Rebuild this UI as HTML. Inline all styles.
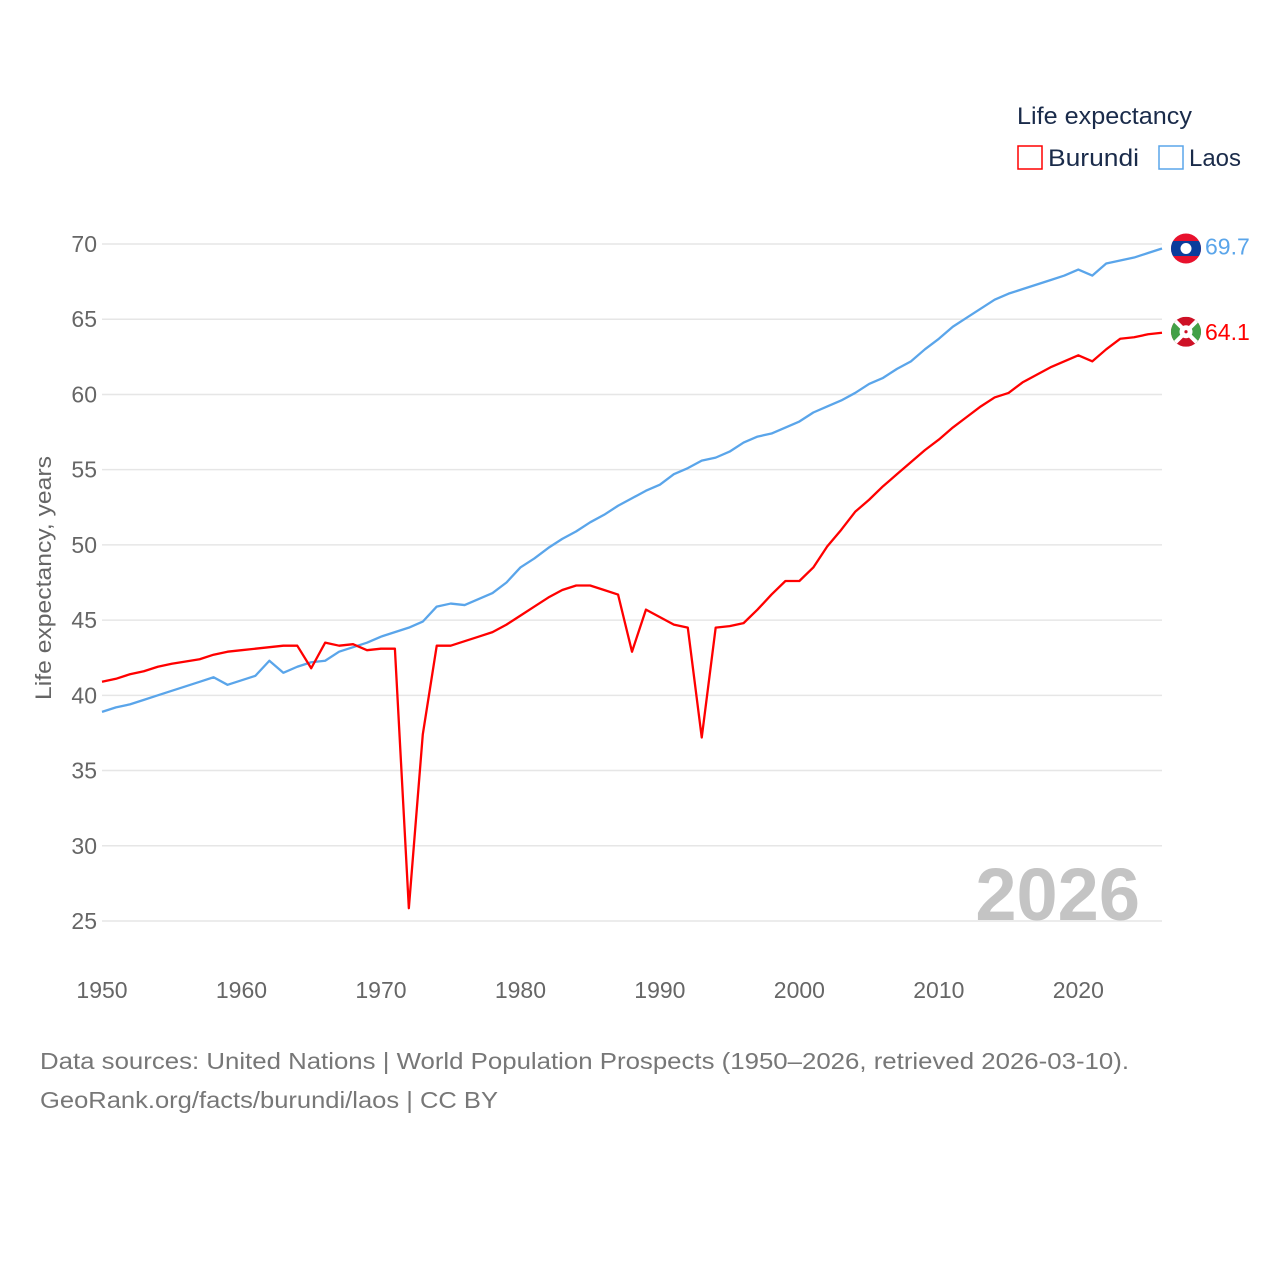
<!DOCTYPE html>
<html><head><meta charset="utf-8"><style>
body{margin:0;background:#fff;width:1280px;height:1280px;overflow:hidden;font-family:"Liberation Sans",sans-serif}
</style></head><body>
<svg id="chart" width="1280" height="1280" xmlns="http://www.w3.org/2000/svg">
<defs>
<clipPath id="cl"><circle id="clc" cx="1186" cy="248" r="15"/></clipPath>
<clipPath id="cb"><circle id="cbc" cx="1186" cy="332" r="15"/></clipPath>
</defs>
<g id="grid"></g>
<g id="yticks"></g>
<g id="xticks"></g>
<text transform="translate(51,578) rotate(-90)" text-anchor="middle" font-size="22" fill="#666" textLength="244" lengthAdjust="spacingAndGlyphs">Life expectancy, years</text>
<text x="1140" y="920" text-anchor="end" font-size="74" font-weight="bold" fill="#c4c4c4">2026</text>
<g id="series"></g>
<g>
<text x="1017" y="124" font-size="24" fill="#1a2b4a" textLength="175" lengthAdjust="spacingAndGlyphs">Life expectancy</text>
<g><rect x="1018" y="146" width="24" height="23" fill="none" stroke="#ff0000" stroke-width="1.5"/><text x="1048" y="166" font-size="24" fill="#1a2b4a" textLength="91" lengthAdjust="spacingAndGlyphs">Burundi</text></g>
<g><rect x="1159" y="146" width="24" height="23" fill="none" stroke="#5aa5ea" stroke-width="1.5"/><text x="1189" y="166" font-size="24" fill="#1a2b4a" textLength="52" lengthAdjust="spacingAndGlyphs">Laos</text></g>
</g>
<text x="40" y="1069" font-size="23" fill="#777" textLength="1089" lengthAdjust="spacingAndGlyphs">Data sources: United Nations | World Population Prospects (1950–2026, retrieved 2026-03-10).</text>
<text x="40" y="1108" font-size="23" fill="#777" textLength="458" lengthAdjust="spacingAndGlyphs">GeoRank.org/facts/burundi/laos | CC BY</text>
</svg>
<script>
const years=[];for(let y=1950;y<=2026;y++)years.push(y);
const burundi=[40.9,41.1,41.4,41.6,41.9,42.1,42.25,42.4,42.7,42.9,43.0,43.1,43.2,43.3,43.3,41.8,43.5,43.3,43.4,43.0,43.1,43.1,25.85,37.4,43.3,43.3,43.6,43.9,44.2,44.7,45.3,45.9,46.5,47.0,47.3,47.3,47.0,46.7,42.9,45.7,45.2,44.7,44.5,37.2,44.5,44.6,44.8,45.7,46.7,47.6,47.6,48.5,49.9,51.0,52.2,53.0,53.9,54.7,55.5,56.3,57.0,57.8,58.5,59.2,59.8,60.1,60.8,61.3,61.8,62.2,62.6,62.2,63.0,63.7,63.8,64.0,64.1];
const laos=[38.9,39.2,39.4,39.7,40.0,40.3,40.6,40.9,41.2,40.7,41.0,41.3,42.3,41.5,41.9,42.2,42.3,42.9,43.2,43.5,43.9,44.2,44.5,44.9,45.9,46.1,46.0,46.4,46.8,47.5,48.5,49.1,49.8,50.4,50.9,51.5,52.0,52.6,53.1,53.6,54.0,54.7,55.1,55.6,55.8,56.2,56.8,57.2,57.4,57.8,58.2,58.8,59.2,59.6,60.1,60.7,61.1,61.7,62.2,63.0,63.7,64.5,65.1,65.7,66.3,66.7,67.0,67.3,67.6,67.9,68.3,67.9,68.7,68.9,69.1,69.4,69.7];
const yTicks=[25,30,35,40,45,50,55,60,65,70];
const xTicks=[1950,1960,1970,1980,1990,2000,2010,2020];
const NS="http://www.w3.org/2000/svg";
const X=y=>102+(y-1950)*(1162-102)/76;
const Y=v=>244+(70-v)*(921-244)/45;
function mk(t,a,p){const e=document.createElementNS(NS,t);for(const k in a)e.setAttribute(k,a[k]);p.appendChild(e);return e;}
const grid=document.getElementById('grid'),yt=document.getElementById('yticks'),xt=document.getElementById('xticks'),ser=document.getElementById('series');
yTicks.forEach(v=>{
 const l=mk('line',{x1:102,x2:1162,y1:Y(v),y2:Y(v),stroke:'#e6e6e6','stroke-width':1.5},grid);
 
 
 const t=mk('text',{x:97,y:Y(v)+8,'text-anchor':'end','font-size':23,fill:'#666'},yt);t.textContent=v;
 
 
});
xTicks.forEach(v=>{
 const t=mk('text',{x:X(v),y:998,'text-anchor':'middle','font-size':23,fill:'#666'},xt);t.textContent=v;
 
 
});
function line(vals,col,name){
 const p=mk('polyline',{points:vals.map((v,i)=>X(years[i])+','+Y(v)).join(' '),fill:'none',stroke:col,'stroke-width':2.3,'stroke-linejoin':'round'},ser);
 
 
}
line(laos,'#5aa5ea','laos-line');
line(burundi,'#ff0000','burundi-line');
const lv=laos[laos.length-1],bv=burundi[burundi.length-1],cx=1186;
const ly=Y(lv);
document.getElementById('clc').setAttribute('cy',ly);
const lg=mk('g',{'clip-path':'url(#cl)'},ser);


mk('rect',{x:cx-15,y:ly-15,width:30,height:30,fill:'#e8112d'},lg);
mk('rect',{x:cx-15,y:ly-7.5,width:30,height:15,fill:'#0a3d9c'},lg);
mk('circle',{cx:cx,cy:ly,r:5.5,fill:'#fff'},lg);
const lt=mk('text',{x:1205,y:ly+6,'font-size':23,fill:'#5aa5ea'},ser);lt.textContent=lv.toFixed(1);


const by=Y(bv)-1;
document.getElementById('cbc').setAttribute('cy',by);
const bg=mk('g',{'clip-path':'url(#cb)'},ser);


mk('rect',{x:cx-15,y:by-15,width:30,height:30,fill:'#ce1126'},bg);
mk('path',{d:`M${cx-15} ${by-15}L${cx} ${by}L${cx-15} ${by+15}Z M${cx+15} ${by-15}L${cx} ${by}L${cx+15} ${by+15}Z`,fill:'#43a047'},bg);
mk('path',{d:`M${cx-15} ${by-15}L${cx+15} ${by+15}M${cx+15} ${by-15}L${cx-15} ${by+15}`,stroke:'#fff','stroke-width':4},bg);
mk('circle',{cx:cx,cy:by,r:6.5,fill:'#fff'},bg);
mk('circle',{cx:cx,cy:by,r:1.6,fill:'#ce1126'},bg);
const bt=mk('text',{x:1205,y:by+8,'font-size':23,fill:'#ff0000'},ser);bt.textContent=bv.toFixed(1);


</script>
</body></html>
